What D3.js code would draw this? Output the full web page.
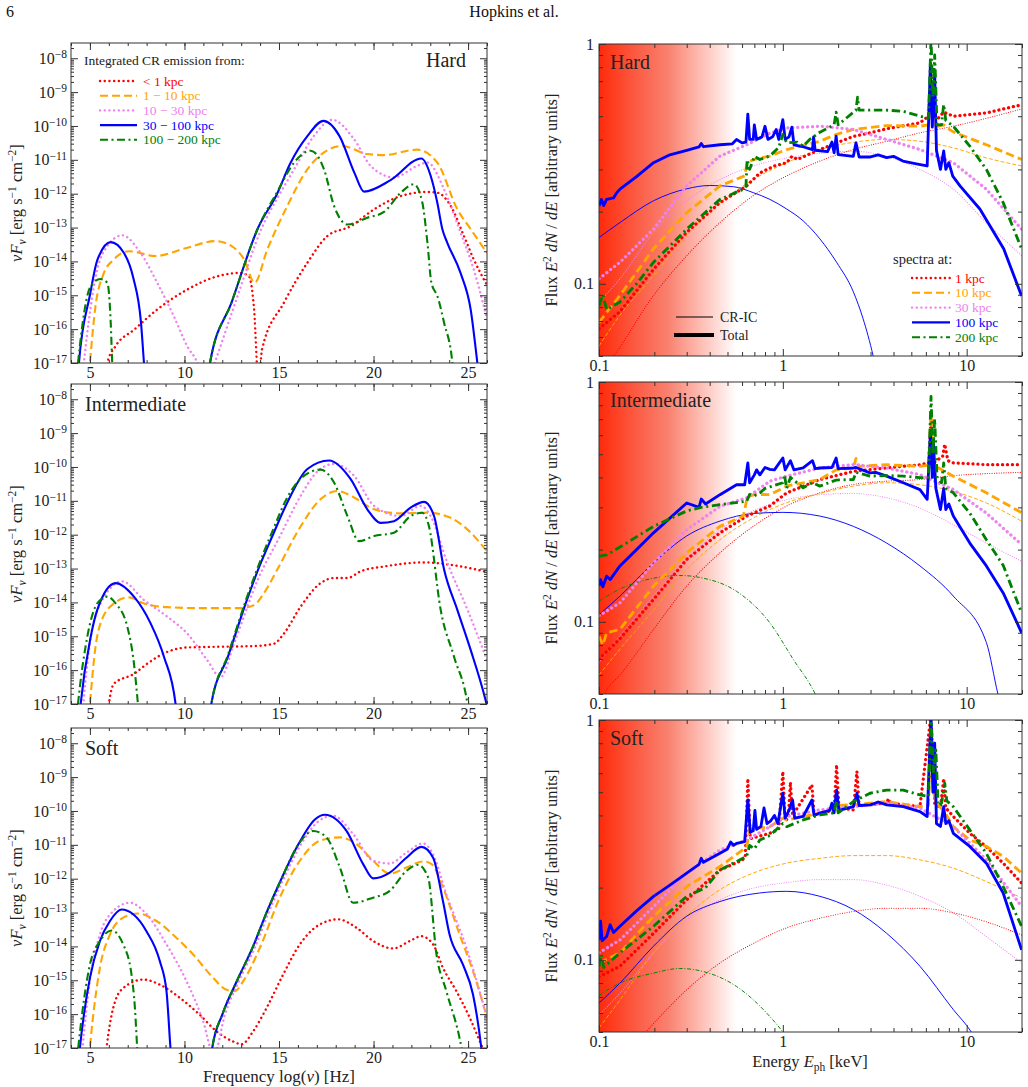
<!DOCTYPE html>
<html lang="en">
<head>
<meta charset="UTF-8">
<title>CR emission spectra</title>
<script src="https://d3js.org/d3.v7.min.js"></script>
<style>
  body { margin: 0; background: #fff; }
  svg { font-family: "Liberation Serif", "DejaVu Serif", serif; }
  .frame { fill: none; stroke: #333; stroke-width: 1; }
  .tick line { stroke: #333; }
  .tick text { fill: #222; }
</style>
</head>
<body>
<svg width="1028" height="1087"></svg>
<script>
// ---------- left column: log(nu) vs log10(nu F_nu) ----------
const sedHardR1 = [[5.7,-18],[5.92,-17],[6.36,-16.5],[7.33,-16.02],[8.56,-15.42],[10.15,-14.83],[11.74,-14.44],[12.97,-14.34],[13.41,-14.44],[13.68,-15.4],[13.92,-17.6],[14.1,-16.6],[15.26,-15.22],[16.5,-14.04],[17.56,-13.25],[18.79,-12.96],[20.03,-12.46],[21.44,-12.07],[22.85,-11.95],[23.37,-11.97],[24.08,-12.36],[24.78,-13.25],[25.3,-13.94],[26.0,-14.7]];
const sedHardR10 = [[4.85,-18],[5.0,-17],[5.3,-15.3],[5.7,-14.4],[6.27,-13.94],[7.06,-13.7],[8.47,-13.84],[10.0,-13.62],[11.65,-13.4],[12.5,-13.55],[13.15,-13.94],[13.71,-14.63],[14.38,-13.65],[15.44,-12.36],[16.5,-11.28],[17.38,-10.78],[18.35,-10.59],[19.67,-10.83],[20.55,-10.86],[22.3,-10.7],[23.37,-11.08],[24.43,-12.46],[25.14,-13.05],[26.0,-13.75]];
const sedHardR30 = [[4.5,-18],[4.68,-17],[5.39,-14.24],[5.92,-13.55],[6.71,-13.23],[7.68,-13.75],[8.56,-14.63],[9.44,-15.62],[10.15,-16.51],[10.68,-17],[11.1,-17.8],[11.6,-17],[12.7,-15.2],[14.1,-13.0],[15.1,-11.95],[15.8,-11.28],[16.85,-10.29],[17.82,-9.82],[18.97,-10.39],[19.85,-11.18],[21.08,-11.52],[22.3,-11.18],[22.85,-11.08],[23.73,-11.87],[24.6,-13.15],[25.3,-14.24],[26.0,-15.7]];
const sedHardR100 = [[4.3,-18],[4.42,-17],[5.0,-15.0],[5.4,-13.95],[6.1,-13.43],[6.8,-13.75],[7.3,-14.5],[7.7,-15.8],[7.86,-17],[8.0,-18],[11.2,-18],[11.35,-17],[12.5,-15.2],[13.9,-13.0],[14.9,-12.0],[15.6,-11.1],[16.5,-10.3],[17.35,-9.85],[18.2,-10.3],[19.0,-11.4],[19.5,-11.94],[20.9,-11.6],[22.53,-10.96],[23.02,-11.47],[23.37,-12.26],[23.64,-13.05],[23.9,-13.45],[24.6,-14.34],[25.14,-15.43],[25.49,-17],[25.7,-18]];
const sedHardR200 = [[4.2,-18],[4.37,-17],[5.04,-14.73],[5.56,-14.52],[5.92,-14.63],[6.1,-15.8],[6.18,-17],[6.3,-18],[11.2,-18],[11.35,-17],[12.5,-15.2],[13.9,-13.0],[14.9,-11.95],[15.8,-11.08],[16.68,-10.73],[17.38,-11.28],[17.91,-12.36],[18.62,-12.91],[19.67,-12.71],[20.55,-12.54],[21.44,-11.97],[22.14,-11.72],[22.58,-12.26],[22.85,-13.45],[23.06,-14.63],[23.38,-15.03],[23.73,-15.81],[24.17,-17],[24.3,-18]];

const sedIntR1 = [[5.8,-18],[6.0,-17],[6.27,-16.4],[7.33,-16.11],[8.03,-15.81],[9.09,-15.46],[10.15,-15.33],[11.74,-15.31],[13.68,-15.29],[14.73,-15.22],[15.26,-14.92],[16.15,-14.12],[17.2,-13.43],[17.91,-13.28],[18.62,-13.28],[19.32,-13.08],[20.55,-12.94],[22.67,-12.82],[24.08,-12.89],[26.0,-13.1]];
const sedIntR10 = [[4.85,-18],[5.0,-17],[5.3,-15.3],[5.56,-14.62],[6.27,-14.03],[7.06,-13.85],[7.86,-14.03],[9.09,-14.14],[10.86,-14.17],[12.97,-14.17],[13.68,-14.08],[14.2,-13.73],[14.91,-13.03],[16.15,-11.75],[17.2,-10.95],[18.09,-10.71],[18.97,-10.9],[20.03,-11.25],[21.44,-11.37],[22.85,-11.35],[24.08,-11.5],[24.97,-11.85],[26.0,-12.49]];
const sedIntR30 = [[4.5,-18],[4.65,-17],[5.0,-15.2],[5.56,-14.03],[6.71,-13.38],[7.86,-13.93],[9.09,-14.42],[10.15,-14.92],[11.21,-15.71],[11.91,-16.21],[12.62,-15.22],[13.9,-13.3],[15.0,-12.1],[16.2,-10.8],[17.0,-10.15],[17.91,-9.91],[18.97,-10.26],[20.03,-11.15],[21.44,-11.45],[22.5,-11.15],[23.02,-11.45],[23.91,-12.84],[24.97,-14.22],[26.0,-15.7]];
const sedIntR100 = [[4.35,-18],[4.51,-17],[5.04,-15.02],[5.39,-14.22],[6.36,-13.43],[7.33,-13.83],[8.21,-14.62],[8.92,-15.61],[9.53,-17],[9.7,-18],[11.25,-18],[11.42,-17],[12.3,-15.6],[13.24,-14.03],[13.89,-13.04],[14.65,-12.04],[15.44,-11.05],[16.5,-10.06],[17.65,-9.81],[18.79,-10.36],[19.67,-11.25],[20.38,-11.65],[21.08,-11.6],[21.96,-11.2],[22.67,-11.03],[23.2,-11.45],[23.73,-13.03],[24.43,-14.22],[25.14,-15.41],[25.93,-16.9],[26.1,-17.3]];
const sedIntR200 = [[4.2,-18],[4.37,-17],[4.86,-15.02],[5.39,-14.03],[5.92,-13.83],[6.36,-14.03],[6.98,-14.72],[7.33,-15.81],[7.54,-17],[7.7,-18],[11.25,-18],[11.42,-17],[12.3,-15.55],[13.24,-13.95],[13.89,-12.95],[14.65,-11.9],[15.44,-10.9],[16.23,-10.3],[17.2,-10.08],[17.91,-10.46],[18.62,-11.45],[19.23,-12.19],[20.03,-12.04],[21.08,-11.94],[21.96,-11.45],[22.58,-11.35],[22.93,-11.75],[23.55,-14.22],[24.26,-15.61],[24.97,-17],[25.1,-17.5]];

const sedSoftR1 = [[5.7,-18],[5.88,-17],[6.23,-15.82],[6.76,-15.23],[7.82,-14.98],[8.7,-15.13],[9.76,-15.52],[10.81,-16.02],[11.7,-16.51],[12.58,-16.81],[13.02,-16.89],[13.63,-16.51],[14.34,-15.82],[15.22,-14.83],[16.1,-13.94],[17.16,-13.35],[18.13,-13.2],[19.1,-13.45],[19.98,-13.84],[21.04,-14.06],[21.92,-13.84],[22.53,-13.7],[23.15,-13.94],[23.67,-14.63],[24.38,-15.32],[25.09,-16.11],[25.62,-16.8],[26.0,-17.3]];
const sedSoftR10 = [[4.85,-18],[5.0,-17],[5.53,-14.63],[6.06,-13.65],[6.76,-13.15],[7.56,-13.03],[8.52,-13.25],[9.58,-13.75],[10.46,-14.24],[11.52,-14.93],[12.22,-15.28],[12.67,-15.32],[13.1,-15.03],[13.99,-14.04],[15.04,-12.56],[16.1,-11.47],[17.16,-10.88],[18.22,-10.78],[19.1,-10.98],[19.98,-11.47],[20.86,-11.85],[21.74,-11.67],[22.62,-11.49],[23.07,-11.57],[23.67,-12.26],[24.55,-13.65],[25.26,-14.73],[26.0,-16.1]];
const sedSoftR30 = [[4.45,-18],[4.61,-17],[5.0,-15.0],[5.53,-13.65],[6.23,-12.96],[7.11,-12.71],[8.0,-13.05],[9.05,-13.94],[10.11,-15.03],[10.99,-16.21],[11.55,-17.2],[12.15,-16.0],[12.9,-15.0],[13.75,-14.0],[14.45,-13.0],[15.25,-12.0],[16.15,-11.0],[17.1,-10.3],[17.86,-10.14],[18.92,-10.68],[19.98,-11.47],[20.86,-11.55],[21.74,-11.23],[22.62,-10.96],[23.15,-11.28],[23.85,-12.46],[24.91,-14.04],[26.0,-16.1]];
const sedSoftR100 = [[4.3,-18],[4.47,-17],[5.0,-14.93],[5.53,-13.84],[6.06,-13.25],[6.67,-12.91],[7.29,-13.05],[7.99,-13.55],[8.7,-14.44],[9.05,-15.32],[9.26,-17],[9.4,-18],[11.3,-18],[11.47,-17],[12.01,-16],[12.79,-15],[13.63,-14],[14.34,-13],[15.13,-12],[16.01,-11],[16.9,-10.25],[17.42,-10.11],[18.57,-10.59],[19.45,-11.57],[19.98,-11.99],[20.86,-11.82],[21.74,-11.38],[22.53,-11.06],[23.15,-11.38],[23.67,-12.66],[24.02,-13.65],[24.73,-14.54],[25.26,-15.42],[25.7,-17],[25.8,-17.5]];
const sedSoftR200 = [[4.2,-18],[4.38,-17],[5.0,-14.54],[5.53,-13.84],[6.15,-13.53],[6.76,-13.94],[7.2,-14.83],[7.38,-15.82],[7.5,-17],[7.6,-18],[11.3,-18],[11.47,-17],[12.01,-16],[12.79,-15],[13.63,-14],[14.34,-13],[15.13,-12],[16.01,-11],[16.81,-10.59],[17.51,-10.78],[18.22,-11.67],[18.92,-12.71],[19.98,-12.56],[20.86,-12.36],[21.74,-11.77],[22.36,-11.59],[22.89,-11.97],[23.33,-14.24],[23.85,-15.32],[24.65,-17],[24.8,-17.5]];

// ---------- right column: energy (keV) vs flux, CR-IC (thin) and total (thick) ----------
const icHardR1 = [[0.1,0.042],[0.12,0.05],[0.198,0.0895],[0.3,0.131],[0.455,0.18],[0.69,0.233],[1.05,0.282],[1.59,0.325],[2.42,0.363],[3.67,0.393],[5.57,0.426],[8.46,0.454],[12.8,0.49],[19.9,0.536]];
const icHardR10 = [[0.1,0.055],[0.13,0.074],[0.198,0.108],[0.3,0.159],[0.455,0.218],[0.69,0.272],[1.05,0.32],[1.59,0.363],[2.42,0.389],[3.67,0.4],[5.57,0.393],[8.46,0.369],[12.8,0.335],[19.9,0.31]];
const icHardR30 = [[0.1,0.084],[0.13,0.105],[0.198,0.164],[0.3,0.222],[0.455,0.272],[0.69,0.31],[1.05,0.335],[1.59,0.35],[2.42,0.357],[3.67,0.34],[5.57,0.3],[8.46,0.248],[12.8,0.18],[19.9,0.131]];
const icHardR100 = [[0.1,0.156],[0.13,0.18],[0.198,0.222],[0.3,0.249],[0.4,0.257],[0.54,0.254],[0.69,0.24],[0.85,0.225],[1.05,0.205],[1.29,0.183],[1.59,0.154],[1.96,0.123],[2.42,0.0925],[2.73,0.0717],[3.1,0.05],[3.3,0.04]];
const icHardR200 = [];

const totHardR1 = [[0.1,0.065],[0.13,0.0765],[0.198,0.115],[0.3,0.164],[0.455,0.218],[0.636,0.256],[0.75,0.29],[0.9,0.31],[1.05,0.32],[1.12,0.34],[1.2,0.33],[1.59,0.363],[1.96,0.387],[2.42,0.412],[2.98,0.426],[3.67,0.443],[5.57,0.469],[6.2,0.5],[6.4,0.75],[6.6,0.5],[7.0,0.49],[7.5,0.52],[8.46,0.5],[12.8,0.516],[19.9,0.558]];
const totHardR10 = [[0.1,0.069],[0.13,0.0895],[0.198,0.14],[0.3,0.198],[0.455,0.256],[0.62,0.282],[0.64,0.32],[0.7,0.33],[0.85,0.341],[1.05,0.363],[1.59,0.393],[1.96,0.42],[2.42,0.44],[3.67,0.457],[5.57,0.454],[6.2,0.46],[6.4,0.62],[6.6,0.45],[7.5,0.46],[7.8,0.447],[8.46,0.43],[12.8,0.38],[19.9,0.33]];
const totHardR30 = [[0.1,0.105],[0.13,0.123],[0.198,0.169],[0.3,0.256],[0.455,0.341],[0.636,0.38],[0.85,0.425],[1.05,0.447],[1.59,0.454],[2.42,0.44],[3.67,0.4],[5.57,0.363],[8.46,0.32],[12.8,0.248],[19.9,0.169]];
const totHardR100 = [[0.1,0.211],[0.103,0.225],[0.106,0.212],[0.11,0.225],[0.12,0.228],[0.125,0.24],[0.13,0.248],[0.16,0.28],[0.198,0.32],[0.243,0.345],[0.3,0.36],[0.35,0.372],[0.36,0.385],[0.37,0.373],[0.455,0.38],[0.53,0.383],[0.56,0.4],[0.6,0.387],[0.63,0.39],[0.645,0.51],[0.66,0.4],[0.69,0.4],[0.7,0.46],[0.72,0.4],[0.77,0.41],[0.8,0.454],[0.83,0.4],[0.88,0.41],[0.92,0.44],[0.95,0.4],[1.0,0.484],[1.03,0.4],[1.08,0.41],[1.12,0.45],[1.15,0.38],[1.3,0.372],[1.45,0.363],[1.47,0.41],[1.5,0.36],[1.75,0.356],[1.85,0.39],[1.9,0.352],[1.95,0.413],[2.0,0.346],[2.42,0.34],[2.5,0.387],[2.6,0.338],[3.0,0.338],[3.3,0.345],[3.67,0.336],[4.0,0.34],[4.5,0.325],[5.5,0.315],[6.1,0.31],[6.35,0.83],[6.5,0.45],[6.7,0.75],[6.85,0.36],[7.2,0.3],[7.5,0.358],[7.7,0.3],[8.0,0.32],[8.4,0.281],[9.2,0.256],[11.8,0.205],[15.9,0.14],[19.9,0.089]];
const totHardR200 = [[0.1,0.081],[0.105,0.09],[0.11,0.078],[0.13,0.084],[0.16,0.1],[0.198,0.123],[0.3,0.169],[0.455,0.225],[0.61,0.248],[0.63,0.255],[0.64,0.33],[0.66,0.3],[0.7,0.34],[0.75,0.33],[0.85,0.341],[0.95,0.37],[1.0,0.42],[1.05,0.387],[1.2,0.39],[1.29,0.375],[1.4,0.4],[1.6,0.43],[1.9,0.46],[1.95,0.52],[2.0,0.46],[2.5,0.53],[2.55,0.6],[2.6,0.53],[3.67,0.53],[4.52,0.524],[5.57,0.5],[6.2,0.49],[6.4,1.05],[6.55,0.6],[6.7,0.9],[6.9,0.46],[7.3,0.46],[7.5,0.56],[7.7,0.48],[8.46,0.454],[10.4,0.375],[12.8,0.3],[15.8,0.218],[19.9,0.14]];

const icIntR1 = [[0.1,0.045],[0.11,0.052],[0.13,0.06],[0.198,0.093],[0.3,0.141],[0.455,0.194],[0.69,0.25],[1.05,0.304],[1.59,0.345],[2.42,0.374],[3.67,0.386],[5.57,0.392],[8.46,0.407],[12.8,0.415],[19.9,0.42]];
const icIntR10 = [[0.1,0.06],[0.13,0.077],[0.198,0.112],[0.3,0.165],[0.455,0.22],[0.69,0.271],[1.05,0.314],[1.59,0.343],[2.42,0.368],[3.67,0.38],[5.57,0.373],[8.46,0.35],[12.8,0.313],[19.9,0.263]];
const icIntR30 = [[0.1,0.0676],[0.13,0.0873],[0.198,0.128],[0.3,0.182],[0.455,0.242],[0.69,0.29],[1.05,0.323],[1.59,0.339],[2.42,0.343],[3.67,0.329],[5.57,0.298],[8.46,0.254],[12.8,0.213],[19.9,0.179]];
const icIntR100 = [[0.1,0.107],[0.13,0.128],[0.198,0.176],[0.3,0.228],[0.455,0.263],[0.69,0.283],[1.0,0.286],[1.59,0.276],[2.42,0.25],[3.67,0.213],[5.57,0.171],[8.46,0.128],[12.8,0.082],[14.8,0.05],[16,0.04]];
const icIntR200 = [[0.1,0.122],[0.13,0.137],[0.198,0.152],[0.275,0.156],[0.37,0.152],[0.56,0.134],[0.85,0.099],[1.14,0.0697],[1.5,0.05],[1.7,0.04]];

const totIntR1 = [[0.1,0.07],[0.13,0.085],[0.198,0.124],[0.3,0.182],[0.455,0.235],[0.636,0.276],[0.85,0.304],[1.05,0.345],[1.59,0.392],[2.42,0.424],[3.67,0.438],[5.57,0.452],[6.2,0.46],[6.4,0.7],[6.6,0.46],[7.4,0.49],[7.6,0.55],[7.9,0.47],[8.46,0.46],[12.8,0.452],[19.9,0.452]];
const totIntR10 = [[0.1,0.087],[0.105,0.08],[0.11,0.09],[0.13,0.093],[0.198,0.141],[0.3,0.194],[0.455,0.25],[0.61,0.276],[0.64,0.33],[0.7,0.34],[0.85,0.339],[1.05,0.368],[1.59,0.392],[1.95,0.43],[2.42,0.438],[2.5,0.48],[2.6,0.445],[3.67,0.452],[5.57,0.445],[6.2,0.45],[6.4,0.73],[6.6,0.45],[8.46,0.405],[12.8,0.345],[19.9,0.285]];
const totIntR30 = [[0.1,0.106],[0.13,0.12],[0.198,0.176],[0.3,0.242],[0.455,0.303],[0.636,0.329],[0.85,0.386],[1.05,0.405],[1.59,0.438],[2.42,0.452],[3.67,0.438],[5.57,0.411],[8.46,0.356],[12.8,0.284],[19.9,0.21]];
const totIntR100 = [[0.1,0.141],[0.102,0.15],[0.105,0.14],[0.11,0.155],[0.115,0.15],[0.13,0.171],[0.16,0.2],[0.198,0.235],[0.3,0.313],[0.35,0.3],[0.36,0.325],[0.38,0.31],[0.455,0.339],[0.56,0.373],[0.62,0.373],[0.645,0.46],[0.66,0.38],[0.7,0.41],[0.72,0.43],[0.75,0.41],[0.8,0.44],[0.85,0.432],[0.9,0.43],[1.0,0.482],[1.03,0.43],[1.1,0.47],[1.15,0.43],[1.29,0.438],[1.45,0.47],[1.5,0.435],[1.59,0.438],[1.85,0.44],[1.95,0.482],[2.0,0.435],[2.42,0.438],[2.5,0.44],[2.98,0.418],[3.2,0.42],[3.67,0.405],[4.52,0.38],[5.57,0.356],[6.1,0.324],[6.35,0.613],[6.5,0.4],[6.6,0.55],[6.8,0.36],[7.2,0.294],[7.5,0.36],[7.7,0.294],[8.0,0.31],[8.46,0.276],[10.4,0.213],[12.8,0.171],[15.8,0.132],[19.9,0.09]];
const totIntR200 = [[0.1,0.188],[0.11,0.19],[0.13,0.205],[0.198,0.25],[0.3,0.29],[0.36,0.3],[0.455,0.308],[0.636,0.318],[0.66,0.34],[0.7,0.335],[0.75,0.345],[0.8,0.36],[1.0,0.38],[1.02,0.41],[1.05,0.36],[1.1,0.4],[1.29,0.362],[1.45,0.38],[1.59,0.368],[1.95,0.39],[2.42,0.392],[2.5,0.42],[2.98,0.405],[3.67,0.407],[4.52,0.405],[5.57,0.399],[6.2,0.4],[6.4,0.87],[6.55,0.5],[6.7,0.7],[6.9,0.4],[7.3,0.38],[7.5,0.46],[7.7,0.36],[8.46,0.345],[10.4,0.284],[12.8,0.22],[15.8,0.172],[19.9,0.109]];

const icSoftR1 = [[0.16,0.045],[0.18,0.05],[0.243,0.064],[0.3,0.075],[0.455,0.097],[0.69,0.117],[1.05,0.136],[1.59,0.149],[2.42,0.159],[3.67,0.164],[5.57,0.164],[8.46,0.157],[12.8,0.144],[19.9,0.127]];
const icSoftR10 = [[0.1,0.052],[0.13,0.068],[0.198,0.107],[0.3,0.152],[0.455,0.196],[0.69,0.23],[1.05,0.253],[1.59,0.265],[2.42,0.272],[3.67,0.272],[5.57,0.261],[8.46,0.241],[12.8,0.212],[19.9,0.181]];
const icSoftR30 = [[0.1,0.059],[0.13,0.0725],[0.198,0.107],[0.3,0.147],[0.455,0.178],[0.69,0.199],[1.05,0.21],[1.59,0.216],[2.42,0.216],[3.67,0.205],[5.57,0.184],[8.46,0.157],[12.8,0.125],[19.9,0.097]];
const icSoftR100 = [[0.1,0.066],[0.13,0.08],[0.198,0.114],[0.3,0.152],[0.455,0.175],[0.75,0.19],[1.05,0.193],[1.59,0.184],[2.42,0.162],[3.67,0.129],[5.57,0.094],[8.46,0.062],[10.6,0.05],[11.5,0.045]];
const icSoftR200 = [[0.1,0.071],[0.13,0.08],[0.198,0.088],[0.275,0.092],[0.37,0.0893],[0.56,0.0774],[0.85,0.058],[1.0,0.05],[1.1,0.045]];

const totSoftR1 = [[0.1,0.085],[0.13,0.094],[0.198,0.129],[0.3,0.178],[0.455,0.237],[0.6,0.26],[0.625,0.27],[0.645,0.57],[0.665,0.32],[0.85,0.337],[0.95,0.35],[1.0,0.61],[1.03,0.38],[1.07,0.39],[1.1,0.55],[1.13,0.4],[1.44,0.536],[1.48,0.4],[1.59,0.41],[1.9,0.42],[1.96,0.65],[2.02,0.43],[2.42,0.422],[2.53,0.61],[2.6,0.44],[3.67,0.45],[3.75,0.47],[3.85,0.45],[5.57,0.435],[6.4,1.05],[6.7,0.45],[7.2,0.43],[7.5,0.57],[7.7,0.43],[8.46,0.396],[10.4,0.337],[12.8,0.296],[15.8,0.253],[19.9,0.209]];
const totSoftR10 = [[0.1,0.097],[0.13,0.107],[0.198,0.152],[0.3,0.202],[0.455,0.245],[0.636,0.296],[0.66,0.35],[0.85,0.359],[1.0,0.39],[1.05,0.383],[1.59,0.409],[1.96,0.44],[2.42,0.443],[3.67,0.457],[5.57,0.435],[6.2,0.44],[6.4,0.9],[6.6,0.5],[6.8,0.45],[7.5,0.42],[8.46,0.359],[10.4,0.316],[12.8,0.297],[15.8,0.27],[19.9,0.23]];
const totSoftR30 = [[0.1,0.107],[0.13,0.121],[0.198,0.167],[0.3,0.23],[0.455,0.287],[0.636,0.316],[0.85,0.359],[1.05,0.396],[1.59,0.422],[2.42,0.435],[3.67,0.45],[5.57,0.429],[8.46,0.359],[12.8,0.261],[19.9,0.167]];
const totSoftR100 = [[0.1,0.121],[0.102,0.145],[0.104,0.12],[0.11,0.125],[0.115,0.14],[0.12,0.13],[0.13,0.138],[0.16,0.16],[0.198,0.184],[0.243,0.205],[0.3,0.23],[0.35,0.25],[0.36,0.265],[0.37,0.255],[0.455,0.278],[0.5,0.29],[0.52,0.31],[0.54,0.3],[0.56,0.306],[0.62,0.311],[0.645,0.464],[0.665,0.34],[0.69,0.345],[0.705,0.42],[0.72,0.35],[0.76,0.36],[0.79,0.43],[0.82,0.37],[0.86,0.38],[0.9,0.4],[0.94,0.37],[1.0,0.495],[1.03,0.39],[1.08,0.42],[1.13,0.464],[1.16,0.39],[1.29,0.396],[1.44,0.464],[1.48,0.4],[1.59,0.409],[1.8,0.42],[1.85,0.45],[1.9,0.41],[1.96,0.51],[2.02,0.42],[2.42,0.435],[2.53,0.495],[2.6,0.44],[3.0,0.443],[3.3,0.455],[3.67,0.443],[4.52,0.435],[5.57,0.415],[6.1,0.396],[6.4,1.05],[6.55,0.5],[6.7,0.8],[6.85,0.37],[7.2,0.36],[7.5,0.435],[7.7,0.37],[8.0,0.38],[8.46,0.337],[10.4,0.297],[12.8,0.253],[15.8,0.19],[19.9,0.11]];
const totSoftR200 = [[0.1,0.094],[0.103,0.105],[0.106,0.093],[0.13,0.107],[0.198,0.138],[0.3,0.184],[0.38,0.2],[0.455,0.237],[0.636,0.27],[0.66,0.3],[0.7,0.29],[0.75,0.316],[0.85,0.33],[1.0,0.37],[1.05,0.359],[1.29,0.383],[1.59,0.402],[1.9,0.41],[1.96,0.46],[2.0,0.41],[2.42,0.457],[2.98,0.495],[3.67,0.51],[4.52,0.51],[5.57,0.487],[6.2,0.48],[6.4,1.05],[6.6,0.6],[6.8,0.75],[7.0,0.44],[7.3,0.45],[7.6,0.545],[7.8,0.46],[8.46,0.435],[10.4,0.348],[12.8,0.278],[15.8,0.202],[19.9,0.138]];

const panelNames = ["Hard", "Intermediate", "Soft"];
const sedLabels = ["< 1 kpc", "1 \u2212 10 kpc", "10 \u2212 30 kpc", "30 \u2212 100 kpc", "100 \u2212 200 kpc"];
const specLabels = ["1 kpc", "10 kpc", "30 kpc", "100 kpc", "200 kpc"];
const sedTicks = [5, 10, 15, 20, 25];
const sedExponents = [-8, -9, -10, -11, -12, -13, -14, -15, -16, -17];
const specXTicks = [0.1, 1, 10];
const specYTicks = [0.1, 1];

const sedSets = [
  [sedHardR1, sedHardR10, sedHardR30, sedHardR100, sedHardR200],
  [sedIntR1, sedIntR10, sedIntR30, sedIntR100, sedIntR200],
  [sedSoftR1, sedSoftR10, sedSoftR30, sedSoftR100, sedSoftR200]
];
const icSets = [
  [icHardR1, icHardR10, icHardR30, icHardR100, icHardR200],
  [icIntR1, icIntR10, icIntR30, icIntR100, icIntR200],
  [icSoftR1, icSoftR10, icSoftR30, icSoftR100, icSoftR200]
];
const totSets = [
  [totHardR1, totHardR10, totHardR30, totHardR100, totHardR200],
  [totIntR1, totIntR10, totIntR30, totIntR100, totIntR200],
  [totSoftR1, totSoftR10, totSoftR30, totSoftR100, totSoftR200]
];

// line styles for the five radii
const styles = [
  { color: "#ff0000", dash: [0.1, 4.6], cap: "round", w: 2.4 },
  { color: "#ffa500", dash: [8, 4], cap: "butt", w: 2.1 },
  { color: "#ee82ee", dash: [0.1, 4.6], cap: "round", w: 2.4 },
  { color: "#0000ff", dash: null, cap: "butt", w: 2.1 },
  { color: "#008000", dash: [8, 3.5, 2, 3.5], cap: "butt", w: 2.1 }
];

const L = { x0: 71, x1: 487, tops: [43, 384, 728], h: 320 };
const R = { x0: 599, x1: 1022, tops: [44, 382, 720], h: 312 };
const tickFont = 16;

const svg = d3.select("svg");
const defs = svg.append("defs");

// soft X-ray band shading
const grad = defs.append("linearGradient").attr("id", "softband")
  .attr("gradientUnits", "userSpaceOnUse")
  .attr("x1", R.x0).attr("x2", d3.scaleLog([0.1, 20], [R.x0, R.x1])(0.56))
  .attr("y1", 0).attr("y2", 0);
grad.append("stop").attr("offset", 0).attr("stop-color", "#ff2a0a").attr("stop-opacity", 1);
grad.append("stop").attr("offset", 0.5).attr("stop-color", "#f86a55").attr("stop-opacity", 0.85);
grad.append("stop").attr("offset", 1).attr("stop-color", "#ff6a55").attr("stop-opacity", 0);

function styleLine(path, s, scale, wScale) {
  path.attr("fill", "none")
    .attr("stroke", s.color)
    .attr("stroke-width", s.w * wScale)
    .attr("stroke-linecap", s.cap)
    .attr("stroke-linejoin", "round")
    .attr("stroke-dasharray", s.dash ? s.dash.map(v => v * scale).join(" ") : null);
}

function fixAxisFont(g, size) {
  g.attr("font-family", null).attr("font-size", size);
  g.select(".domain").remove();
}

function logMinors(lo, hi) {
  const out = [];
  for (let e = Math.floor(Math.log10(lo)); e <= Math.ceil(Math.log10(hi)); e++)
    for (let m = 2; m <= 9; m++) {
      const v = m * Math.pow(10, e);
      if (v >= lo * 0.999 && v <= hi * 1.001) out.push(v);
    }
  return out;
}

// ---------- left column ----------
panelNames.forEach((name, p) => {
  const top = L.tops[p], bot = top + L.h;
  const x = d3.scaleLinear([4, 26], [L.x0, L.x1]);
  const y = d3.scaleLog([1e-17, Math.pow(10, -7.55)], [bot, top]);
  const g = svg.append("g");
  const cid = "clipL" + p;
  defs.append("clipPath").attr("id", cid).append("rect")
    .attr("x", L.x0).attr("y", top).attr("width", L.x1 - L.x0).attr("height", L.h);

  const line = d3.line().x(d => x(d[0])).y(d => y(Math.pow(10, d[1]))).curve(d3.curveMonotoneX);
  const lines = g.append("g").attr("clip-path", `url(#${cid})`);
  sedSets[p].forEach((data, i) => {
    lines.append("path").attr("d", line(data)).call(styleLine, styles[i], 1, 1);
  });

  const xMinor = d3.range(4, 27);
  const yMinor = logMinors(1e-17, Math.pow(10, -7.55));
  const decades = sedExponents.map(e => Math.pow(10, e));
  // bottom
  g.append("g").attr("transform", `translate(0,${bot})`)
    .call(d3.axisBottom(x).tickValues(xMinor).tickSize(-3).tickFormat("")).call(fixAxisFont, tickFont);
  g.append("g").attr("transform", `translate(0,${bot})`)
    .call(d3.axisBottom(x).tickValues(sedTicks).tickSize(-7).tickPadding(4).tickFormat(d3.format("d"))).call(fixAxisFont, tickFont);
  // top
  g.append("g").attr("transform", `translate(0,${top})`)
    .call(d3.axisTop(x).tickValues(xMinor).tickSize(-3).tickFormat("")).call(fixAxisFont, tickFont);
  g.append("g").attr("transform", `translate(0,${top})`)
    .call(d3.axisTop(x).tickValues(sedTicks).tickSize(-7).tickFormat("")).call(fixAxisFont, tickFont);
  // left
  g.append("g").attr("transform", `translate(${L.x0},0)`)
    .call(d3.axisLeft(y).tickValues(yMinor).tickSize(-3).tickFormat("")).call(fixAxisFont, tickFont);
  const yl = g.append("g").attr("transform", `translate(${L.x0},0)`)
    .call(d3.axisLeft(y).tickValues(decades).tickSize(-7).tickPadding(4).tickFormat(""))
    .call(fixAxisFont, tickFont);
  yl.selectAll(".tick text").each(function(d) {
    const t = d3.select(this).attr("dy", "0.32em");
    t.append("tspan").text("10");
    t.append("tspan").attr("dy", "-0.5em").attr("font-size", "11.5px")
      .text("\u2212" + (-Math.round(Math.log10(d))));
  });
  // right
  g.append("g").attr("transform", `translate(${L.x1},0)`)
    .call(d3.axisRight(y).tickValues(yMinor).tickSize(-3).tickFormat("")).call(fixAxisFont, tickFont);
  g.append("g").attr("transform", `translate(${L.x1},0)`)
    .call(d3.axisRight(y).tickValues(decades).tickSize(-7).tickFormat("")).call(fixAxisFont, tickFont);

  g.append("rect").attr("class", "frame").attr("x", L.x0).attr("y", top)
    .attr("width", L.x1 - L.x0).attr("height", L.h);

  // y label
  const yt = g.append("text").attr("transform", `translate(22,${(top + bot) / 2}) rotate(-90)`)
    .attr("text-anchor", "middle").attr("font-size", 16.5).attr("fill", "#222");
  yt.append("tspan").attr("font-style", "italic").text("\u03bdF");
  yt.append("tspan").attr("font-style", "italic").attr("font-size", 11.5).attr("dy", 4).text("\u03bd");
  yt.append("tspan").attr("dy", -4).text(" [erg s");
  yt.append("tspan").attr("font-size", 11.5).attr("dy", -6).text("\u22121");
  yt.append("tspan").attr("dy", 6).text(" cm");
  yt.append("tspan").attr("font-size", 11.5).attr("dy", -6).text("\u22122");
  yt.append("tspan").attr("dy", 6).text("]");

  // panel name
  if (p === 0) {
    g.append("text").attr("x", 466).attr("y", top + 24).attr("text-anchor", "end")
      .attr("font-size", 20).attr("fill", "#222").text(name);
  } else {
    g.append("text").attr("x", 85).attr("y", top + 27)
      .attr("font-size", 20).attr("fill", "#222").text(name);
  }
});

// legend, left top panel
{
  const lg = svg.append("g");
  lg.append("text").attr("x", 84).attr("y", 65).attr("font-size", 13.5).attr("fill", "#222")
    .text("Integrated CR emission from:");
  sedLabels.forEach((lab, i) => {
    const yy = 81 + i * 14.7;
    lg.append("line").attr("x1", 100).attr("x2", 137).attr("y1", yy).attr("y2", yy)
      .call(styleLine, styles[i], 1, 1);
    lg.append("text").attr("x", 143).attr("y", yy + 4.5).attr("font-size", 13.5)
      .attr("fill", styles[i].color).text(lab);
  });
}

// ---------- right column ----------
panelNames.forEach((name, p) => {
  const top = R.tops[p], bot = top + R.h;
  const x = d3.scaleLog([0.1, 20], [R.x0, R.x1]);
  const y = d3.scaleLog([0.05, 1], [bot, top]);
  const g = svg.append("g");
  const cid = "clipR" + p;
  defs.append("clipPath").attr("id", cid).append("rect")
    .attr("x", R.x0).attr("y", top).attr("width", R.x1 - R.x0).attr("height", R.h);

  g.append("rect").attr("x", R.x0).attr("y", top).attr("width", x(0.56) - R.x0).attr("height", R.h)
    .attr("fill", "url(#softband)");

  const smooth = d3.line().x(d => x(d[0])).y(d => y(d[1])).curve(d3.curveMonotoneX);
  const jagged = d3.line().x(d => x(d[0])).y(d => y(d[1])).curve(d3.curveLinear);
  const lines = g.append("g").attr("clip-path", `url(#${cid})`);
  icSets[p].forEach((data, i) => {
    if (!data.length) return;
    lines.append("path").attr("d", smooth(data)).call(styleLine, styles[i], 0.5, 0.45);
  });
  totSets[p].forEach((data, i) => {
    lines.append("path").attr("d", jagged(data)).call(styleLine, styles[i], 1.05, 1.35);
  });

  const xMinor = logMinors(0.1, 20);
  const yMinor = logMinors(0.05, 1);
  g.append("g").attr("transform", `translate(0,${bot})`)
    .call(d3.axisBottom(x).tickValues(xMinor).tickSize(-4).tickFormat("")).call(fixAxisFont, tickFont);
  g.append("g").attr("transform", `translate(0,${bot})`)
    .call(d3.axisBottom(x).tickValues(specXTicks).tickSize(-7).tickPadding(4).tickFormat(d => d < 1 ? "0.1" : String(d)))
    .call(fixAxisFont, tickFont);
  g.append("g").attr("transform", `translate(0,${top})`)
    .call(d3.axisTop(x).tickValues(xMinor).tickSize(-4).tickFormat("")).call(fixAxisFont, tickFont);
  g.append("g").attr("transform", `translate(0,${top})`)
    .call(d3.axisTop(x).tickValues(specXTicks).tickSize(-7).tickFormat("")).call(fixAxisFont, tickFont);
  g.append("g").attr("transform", `translate(${R.x0},0)`)
    .call(d3.axisLeft(y).tickValues(yMinor).tickSize(-4).tickFormat("")).call(fixAxisFont, tickFont);
  g.append("g").attr("transform", `translate(${R.x0},0)`)
    .call(d3.axisLeft(y).tickValues(specYTicks).tickSize(-7).tickPadding(5).tickFormat(d => d < 1 ? "0.1" : "1"))
    .call(fixAxisFont, tickFont);
  g.append("g").attr("transform", `translate(${R.x1},0)`)
    .call(d3.axisRight(y).tickValues(yMinor).tickSize(-4).tickFormat("")).call(fixAxisFont, tickFont);
  g.append("g").attr("transform", `translate(${R.x1},0)`)
    .call(d3.axisRight(y).tickValues(specYTicks).tickSize(-7).tickFormat("")).call(fixAxisFont, tickFont);

  g.append("rect").attr("class", "frame").attr("x", R.x0).attr("y", top)
    .attr("width", R.x1 - R.x0).attr("height", R.h);

  const yt = g.append("text").attr("transform", `translate(557,${(top + bot) / 2}) rotate(-90)`)
    .attr("text-anchor", "middle").attr("font-size", 16.5).attr("fill", "#222");
  yt.append("tspan").text("Flux ");
  yt.append("tspan").attr("font-style", "italic").text("E");
  yt.append("tspan").attr("font-size", 11.5).attr("dy", -6).text("2");
  yt.append("tspan").attr("dy", 6).attr("font-style", "italic").text(" dN");
  yt.append("tspan").text(" / ");
  yt.append("tspan").attr("font-style", "italic").text("dE");
  yt.append("tspan").text(" [arbitrary units]");

  g.append("text").attr("x", 610).attr("y", top + 25)
    .attr("font-size", 20).attr("fill", "#222").text(name);
});

// legends, right top panel
{
  const lg = svg.append("g");
  lg.append("text").attr("x", 893).attr("y", 264).attr("font-size", 14.5).attr("fill", "#222").text("spectra at:");
  specLabels.forEach((lab, i) => {
    const yy = 278 + i * 14.8;
    lg.append("line").attr("x1", 912).attr("x2", 950).attr("y1", yy).attr("y2", yy)
      .call(styleLine, styles[i], 1, 1);
    lg.append("text").attr("x", 955).attr("y", yy + 4.5).attr("font-size", 13.5)
      .attr("fill", styles[i].color).text(lab);
  });
  lg.append("line").attr("x1", 676).attr("x2", 713).attr("y1", 317).attr("y2", 317)
    .attr("stroke", "#000").attr("stroke-width", 1);
  lg.append("text").attr("x", 720).attr("y", 321.5).attr("font-size", 14).attr("fill", "#222").text("CR-IC");
  lg.append("line").attr("x1", 674).attr("x2", 714).attr("y1", 335).attr("y2", 335)
    .attr("stroke", "#000").attr("stroke-width", 4);
  lg.append("text").attr("x", 720).attr("y", 339.5).attr("font-size", 14).attr("fill", "#222").text("Total");
}

// axis titles and page header
{
  const t1 = svg.append("text").attr("x", 279).attr("y", 1082).attr("text-anchor", "middle")
    .attr("font-size", 17).attr("fill", "#222");
  t1.append("tspan").text("Frequency log(");
  t1.append("tspan").attr("font-style", "italic").text("\u03bd");
  t1.append("tspan").text(") [Hz]");
  const t2 = svg.append("text").attr("x", 810).attr("y", 1067).attr("text-anchor", "middle")
    .attr("font-size", 16.5).attr("fill", "#222");
  t2.append("tspan").text("Energy ");
  t2.append("tspan").attr("font-style", "italic").text("E");
  t2.append("tspan").attr("font-size", 11.5).attr("dy", 4).text("ph");
  t2.append("tspan").attr("dy", -4).text(" [keV]");
  svg.append("text").attr("x", 6).attr("y", 17).attr("font-size", 16).attr("fill", "#111").text("6");
  svg.append("text").attr("x", 514).attr("y", 17).attr("text-anchor", "middle")
    .attr("font-size", 16).attr("fill", "#111").text("Hopkins et al.");
}
</script>
</body>
</html>
